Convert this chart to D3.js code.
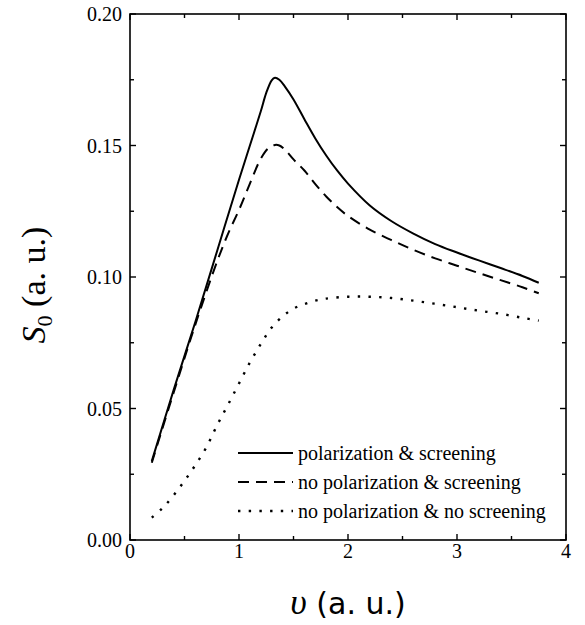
<!DOCTYPE html>
<html>
<head>
<meta charset="utf-8">
<script src="https://cdn.jsdelivr.net/npm/d3@7.9.0/dist/d3.min.js"></script>
<style>
  body { margin: 0; background: #fff; }
  svg { display: block; }
  text { fill: #000; }
</style>
</head>
<body>
<svg id="chart" width="585" height="625"></svg>
<script>
// values
const vSolid = [0.2, 0.4, 0.6, 0.8, 1.0, 1.1, 1.2, 1.25, 1.3, 1.33, 1.37, 1.42, 1.5, 1.6, 1.7, 1.8, 1.9, 2.0, 2.2, 2.4, 2.6, 2.8, 3.0, 3.2, 3.4, 3.6, 3.75];
const sSolid = [0.030, 0.057, 0.083, 0.110, 0.137, 0.150, 0.163, 0.170, 0.1748, 0.1758, 0.1750, 0.1725, 0.1675, 0.160, 0.1527, 0.1462, 0.1405, 0.1355, 0.1272, 0.1212, 0.1165, 0.1125, 0.1093, 0.1063, 0.1034, 0.1004, 0.0978];

const vDashed = [0.2, 0.4, 0.6, 0.8, 0.9, 1.0, 1.1, 1.2, 1.27, 1.33, 1.37, 1.42, 1.5, 1.6, 1.7, 1.8, 1.9, 2.0, 2.2, 2.4, 2.6, 2.8, 3.0, 3.2, 3.4, 3.6, 3.75];
const sDashed = [0.0294, 0.056, 0.082, 0.106, 0.1165, 0.1255, 0.1355, 0.1450, 0.1490, 0.1502, 0.1500, 0.1485, 0.1447, 0.1405, 0.1353, 0.1306, 0.1266, 0.1232, 0.1180, 0.1140, 0.1103, 0.1071, 0.1043, 0.1015, 0.0988, 0.0961, 0.0938];

const vDotted = [0.2, 0.3, 0.4, 0.5, 0.6, 0.7, 0.8, 0.9, 1.0, 1.1, 1.2, 1.3, 1.4, 1.5, 1.6, 1.7, 1.8, 2.0, 2.2, 2.4, 2.6, 2.8, 3.0, 3.2, 3.4, 3.6, 3.75];
const sDotted = [0.0085, 0.0122, 0.0170, 0.0225, 0.0285, 0.0352, 0.0437, 0.0515, 0.0595, 0.0675, 0.0745, 0.0808, 0.0850, 0.0880, 0.0897, 0.0910, 0.0918, 0.0925, 0.0925, 0.0920, 0.0910, 0.0898, 0.0885, 0.0872, 0.0860, 0.0845, 0.0834];

const xTicks = [0, 1, 2, 3, 4];
const xMinor = [0.5, 1.5, 2.5, 3.5];
const yTicks = [0.00, 0.05, 0.10, 0.15, 0.20];
const yMinor = [0.025, 0.075, 0.125, 0.175];

const seriesNames = ['polarization & screening', 'no polarization & screening', 'no polarization & no screening'];
const dashes = [null, '11,7', '2.4,8.3'];

const margin = {left: 130, right: 19, top: 14, bottom: 85};
const width = 585, height = 625;

const svg = d3.select('#chart');

let x = d3.scaleLinear().domain([0, 4]).range([margin.left, width - margin.right]);
let y = d3.scaleLinear().domain([0, 0.2]).range([height - margin.bottom, margin.top]);

const serif = 'Liberation Serif, Times New Roman, Times, DejaVu Serif, serif';

// frame
svg.append('rect')
  .attr('x', x(0)).attr('y', y(0.2))
  .attr('width', x(4) - x(0)).attr('height', y(0) - y(0.2))
  .attr('fill', 'none').attr('stroke', '#000').attr('stroke-width', 1.6);

// inward ticks on all four sides
function tickLines(vals, len) {
  vals.forEach(v => {
    svg.append('line').attr('x1', x(v)).attr('x2', x(v)).attr('y1', y(0)).attr('y2', y(0) - len)
      .attr('stroke', '#000').attr('stroke-width', 1.4);
    svg.append('line').attr('x1', x(v)).attr('x2', x(v)).attr('y1', y(0.2)).attr('y2', y(0.2) + len)
      .attr('stroke', '#000').attr('stroke-width', 1.4);
  });
}
function yTickLines(vals, len) {
  vals.forEach(v => {
    svg.append('line').attr('x1', x(0)).attr('x2', x(0) + len).attr('y1', y(v)).attr('y2', y(v))
      .attr('stroke', '#000').attr('stroke-width', 1.4);
    svg.append('line').attr('x1', x(4)).attr('x2', x(4) - len).attr('y1', y(v)).attr('y2', y(v))
      .attr('stroke', '#000').attr('stroke-width', 1.4);
  });
}
tickLines(xTicks, 6);
tickLines(xMinor, 4);
yTickLines(yTicks, 6);
yTickLines(yMinor, 4);

// tick labels
svg.selectAll('.xlab').data(xTicks).join('text')
  .attr('x', d => x(d)).attr('y', y(0) + 18)
  .attr('text-anchor', 'middle')
  .attr('font-family', serif).attr('font-size', 20)
  .text(d => d3.format('d')(d));

svg.selectAll('.ylab').data(yTicks).join('text')
  .attr('x', x(0) - 8).attr('y', d => y(d) + 7)
  .attr('text-anchor', 'end')
  .attr('font-family', serif).attr('font-size', 20)
  .text(d => d3.format('.2f')(d));

// curves
const series = [
  vSolid.map((v, i) => [v, sSolid[i]]),
  vDashed.map((v, i) => [v, sDashed[i]]),
  vDotted.map((v, i) => [v, sDotted[i]])
];

let line = d3.line().x(d => x(d[0])).y(d => y(d[1])).curve(d3.curveCatmullRom.alpha(0.5));

series.forEach((pts, i) => {
  svg.append('path')
    .attr('d', line(pts))
    .attr('fill', 'none')
    .attr('stroke', '#000')
    .attr('stroke-width', i === 2 ? 2.4 : 2)
    .attr('stroke-dasharray', dashes[i]);
});

// legend
const legendY = [453, 482, 511];
seriesNames.forEach((name, i) => {
  svg.append('line')
    .attr('x1', 238).attr('x2', 293)
    .attr('y1', legendY[i]).attr('y2', legendY[i])
    .attr('stroke', '#000')
    .attr('stroke-width', i === 2 ? 2.4 : 2)
    .attr('stroke-dasharray', dashes[i]);
  svg.append('text')
    .attr('x', 298).attr('y', legendY[i] + 7)
    .attr('font-family', serif).attr('font-size', 20)
    .text(name);
});

// axis titles
const xt = svg.append('text')
  .attr('x', (x(0) + x(4)) / 2).attr('y', 614)
  .attr('text-anchor', 'middle')
  .attr('font-family', 'DejaVu Sans, sans-serif').attr('font-size', 30);
xt.append('tspan').attr('font-family', serif).attr('font-style', 'italic').attr('font-size', 36).text('υ');
xt.append('tspan').text(' (a. u.)');

const yt = svg.append('text')
  .attr('transform', 'translate(45,285) rotate(-90)')
  .attr('text-anchor', 'middle')
  .attr('font-family', serif).attr('font-size', 34);
yt.append('tspan').attr('font-style', 'italic').text('S');
yt.append('tspan').attr('dy', 7).attr('font-size', 22).text('0');
yt.append('tspan').attr('dy', -7).text(' (a. u.)');
</script>
</body>
</html>
